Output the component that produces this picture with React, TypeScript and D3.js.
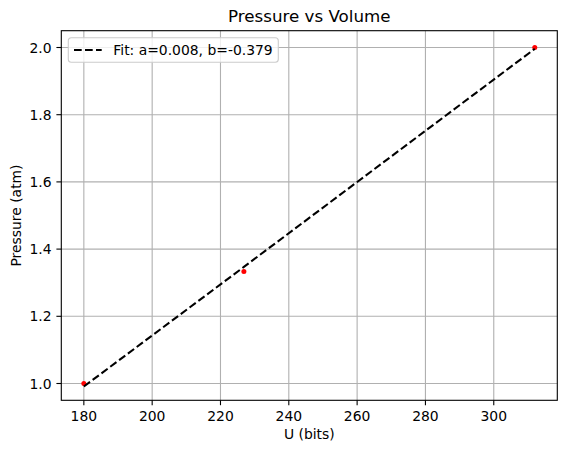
import React from 'react';
import * as d3 from 'd3';

// Measured values
const volumeBits = [180, 226.85, 312];
const pressureAtm = [1.0, 1.3333, 2.0];

// Fitted line (a≈0.008, b≈-0.379)
const fitX = [180, 226.85, 312];
const fitY = [0.991, 1.347, 1.996];

const xTicks = [180, 200, 220, 240, 260, 280, 300];
const yTicks = [1.0, 1.2, 1.4, 1.6, 1.8, 2.0];

const WIDTH = 567;
const HEIGHT = 453;
const margin = { top: 30.7, right: 9.7, bottom: 52.7, left: 61.3 };
const FONT = '"DejaVu Sans", sans-serif';

export default function App() {
  const innerW = WIDTH - margin.left - margin.right;
  const innerH = HEIGHT - margin.top - margin.bottom;

  // matplotlib-style 5% padding around the data range
  const xPad = (312 - 180) * 0.05;
  const yPad = (2.0 - 1.0) * 0.05;
  const x = d3.scaleLinear().domain([180 - xPad, 312 + xPad]).range([0, innerW]);
  const y = d3.scaleLinear().domain([1.0 - yPad, 2.0 + yPad]).range([innerH, 0]);

  const fitLine = d3.line<number>()
    .x((_, i) => x(fitX[i]))
    .y(d => y(d));

  const tickLen = 4.9;

  return (
    <svg
      width={WIDTH}
      height={HEIGHT}
      style={{ position: 'absolute', left: 0, top: 0, background: '#fff' }}
      fontFamily={FONT}
    >
      <text x={margin.left + innerW / 2} y={21.5} textAnchor="middle" fontSize={16.7} fill="#000">
        Pressure vs Volume
      </text>

      <g transform={`translate(${margin.left},${margin.top})`}>
        {/* grid */}
        {xTicks.map(t => (
          <line key={`gx${t}`} x1={x(t)} x2={x(t)} y1={0} y2={innerH} stroke="#b0b0b0" strokeWidth={1.1} />
        ))}
        {yTicks.map(t => (
          <line key={`gy${t}`} x1={0} x2={innerW} y1={y(t)} y2={y(t)} stroke="#b0b0b0" strokeWidth={1.1} />
        ))}

        {/* data points */}
        {volumeBits.map((v, i) => (
          <circle key={`p${i}`} cx={x(v)} cy={y(pressureAtm[i])} r={2.5} fill="red" />
        ))}

        {/* fit line, drawn over the points */}
        <path
          d={fitLine(fitY) || ''}
          fill="none"
          stroke="#000"
          strokeWidth={2.08}
          strokeDasharray="7.7,3.3"
        />

        {/* spines */}
        <rect x={0} y={0} width={innerW} height={innerH} fill="none" stroke="#000" strokeWidth={1.1} />

        {/* x axis ticks */}
        {xTicks.map(t => (
          <g key={`tx${t}`} transform={`translate(${x(t)},${innerH})`}>
            <line y1={0} y2={tickLen} stroke="#000" strokeWidth={1.1} />
            <text y={tickLen + 4.9} dy="0.76em" textAnchor="middle" fontSize={13.9} fill="#000">
              {t}
            </text>
          </g>
        ))}

        {/* y axis ticks */}
        {yTicks.map(t => (
          <g key={`ty${t}`} transform={`translate(0,${y(t)})`}>
            <line x1={0} x2={-tickLen} stroke="#000" strokeWidth={1.1} />
            <text x={-tickLen - 4.9} dy="0.36em" textAnchor="end" fontSize={13.9} fill="#000">
              {t.toFixed(1)}
            </text>
          </g>
        ))}

        {/* legend */}
        <g transform="translate(7,7)">
          <rect x={0} y={0} width={210} height={24.6} rx={3} fill="#fff" fillOpacity={0.8} stroke="#cccccc" strokeWidth={1.1} />
          <line x1={5.7} x2={33.4} y1={12.3} y2={12.3} stroke="#000" strokeWidth={2.08} strokeDasharray="7.7,3.3" />
          <text x={45} y={12.3} dy="0.36em" fontSize={13.9} fill="#000">
            Fit: a=0.008, b=-0.379
          </text>
        </g>
      </g>

      {/* axis labels */}
      <text x={margin.left + innerW / 2} y={438.5} textAnchor="middle" fontSize={13.9} fill="#000">
        U (bits)
      </text>
      <text
        transform={`translate(21,${margin.top + innerH / 2}) rotate(-90)`}
        textAnchor="middle"
        fontSize={13.9}
        fill="#000"
      >
        Pressure (atm)
      </text>
    </svg>
  );
}
